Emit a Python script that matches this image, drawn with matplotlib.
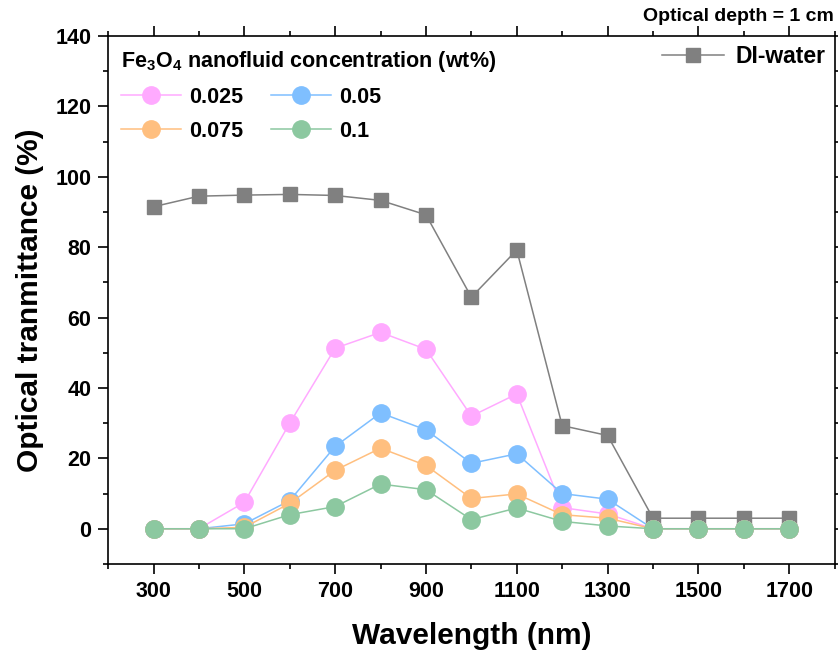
import matplotlib
matplotlib.use("Agg")
import matplotlib.pyplot as plt
from matplotlib.ticker import MultipleLocator

plt.rcParams['font.family'] = ['Liberation Sans', 'DejaVu Sans']
plt.rcParams['font.weight'] = 'bold'
plt.rcParams['mathtext.fontset'] = 'custom'
plt.rcParams['mathtext.rm'] = 'Liberation Sans:bold'
plt.rcParams['mathtext.bf'] = 'Liberation Sans:bold'
plt.rcParams['mathtext.default'] = 'bf'

wavelength = [300, 400, 500, 600, 700, 800, 900, 1000, 1100, 1200, 1300, 1400, 1500, 1600, 1700]

di_water = [91.5, 94.5, 94.8, 95.0, 94.7, 93.3, 89.2, 65.8, 79.2, 29.3, 26.5, 3.0, 3.0, 3.0, 3.0]
c0025 = [0, 0, 7.5, 30.0, 51.3, 55.8, 51.0, 32.0, 38.3, 6.0, 4.2, 0, 0, 0, 0]
c005 = [0, 0, 1.4, 8.0, 23.4, 32.9, 28.1, 18.6, 21.3, 10.0, 8.4, 0, 0, 0, 0]
c0075 = [0, 0, 0.4, 7.2, 16.6, 22.9, 18.0, 8.6, 9.9, 4.0, 3.0, 0, 0, 0, 0]
c01 = [0, 0, 0, 4.0, 6.3, 12.7, 11.1, 2.6, 5.9, 2.1, 0.8, 0, 0, 0, 0]

labels = ['0.025', '0.05', '0.075', '0.1']
colors = ['#FFAAFF', '#7FBFFF', '#FFBF7F', '#8CC8A0']

fig = plt.figure(figsize=(8.38, 6.55), dpi=100)
ax = fig.add_axes([0.129, 0.139, 0.867, 0.806])

water, = ax.plot(wavelength, di_water, color='#808080', marker='s', markersize=10, lw=1.1, label='DI-water')
lines = []
for y, lab, c in zip([c0025, c005, c0075, c01], labels, colors):
    l, = ax.plot(wavelength, y, color=c, marker='o', markersize=12.5, lw=1.1, label=lab)
    lines.append(l)

ax.set_xlim(200, 1800)
ax.set_ylim(-10, 140)
ax.set_xticks(range(300, 1800, 200))
ax.xaxis.set_minor_locator(MultipleLocator(100))
ax.set_yticks(range(0, 141, 20))
ax.yaxis.set_minor_locator(MultipleLocator(10))

ax.tick_params(which='both', direction='out', top=True, right=True, width=1.2, labelsize=15.5, pad=5)
ax.tick_params(which='major', length=7)
ax.tick_params(which='minor', length=3.5)
for s in ax.spines.values():
    s.set_linewidth(1.2)

ax.set_xlabel('Wavelength (nm)', fontsize=21.5, fontweight='bold', labelpad=15)
ax.set_ylabel('Optical tranmittance (%)', fontsize=21.5, fontweight='bold', labelpad=8)

fig.text(0.995, 0.975, 'Optical depth = 1 cm', ha='right', va='center', fontsize=14, fontweight='bold')

# row-major order: 0.025, 0.05 / 0.075, 0.1
order = [0, 2, 1, 3]
leg1 = ax.legend(handles=[lines[i] for i in order], ncol=2, loc='upper left', bbox_to_anchor=(0.0, 1.0),
                 title='Fe$_3$O$_4$ nanofluid concentration (wt%)', title_fontsize=15.5,
                 prop={'size': 15.5, 'weight': 'bold'}, frameon=False, handlelength=2.8,
                 columnspacing=1.3, handletextpad=0.35, labelspacing=0.6, alignment='left',
                 borderaxespad=0.2)
leg1.get_title().set_fontweight('bold')
ax.add_artist(leg1)
ax.legend(handles=[water], loc='upper right', prop={'size': 16.5, 'weight': 'bold'}, frameon=False,
          handlelength=2.7, handletextpad=0.5, borderaxespad=0.0)

fig.savefig('out.png', dpi=100)
